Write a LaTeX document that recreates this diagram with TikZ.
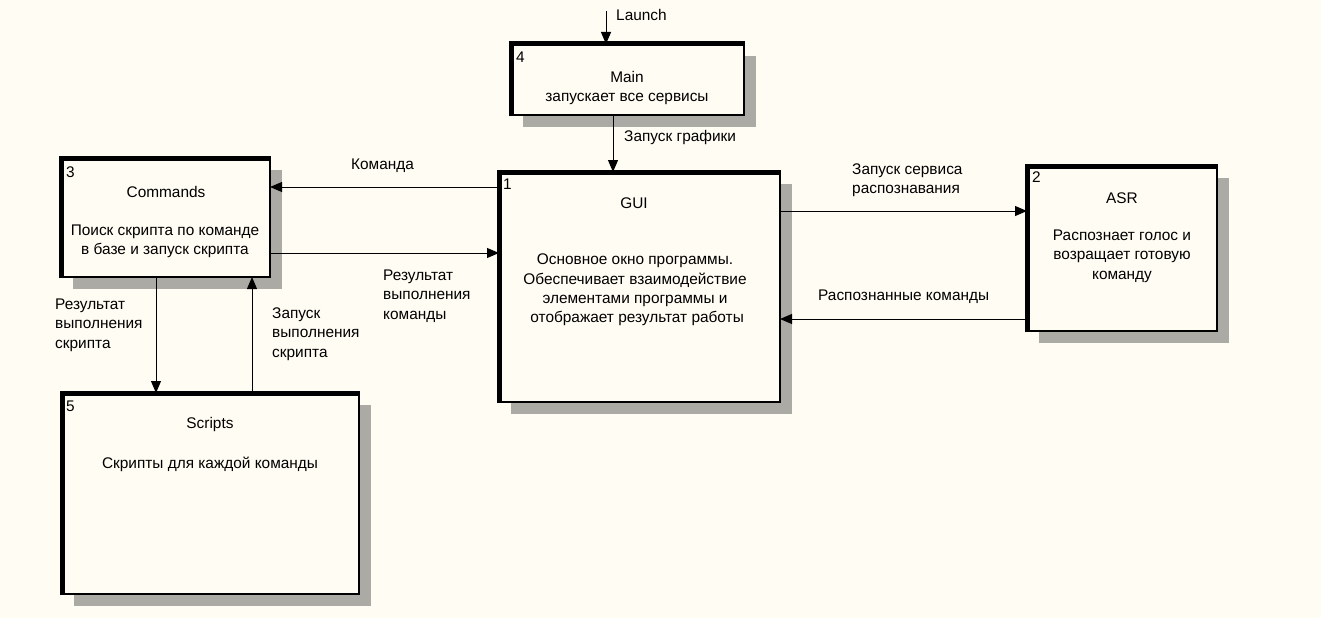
\documentclass[tikz,border=0pt]{standalone}
\usepackage{fontspec}
\setmainfont{Liberation Sans}
\usetikzlibrary{arrows.meta,backgrounds}
\pgfdeclarelayer{paper}
\pgfsetlayers{paper,background,main}
\definecolor{paperc}{RGB}{255,252,243}
\definecolor{shadowc}{RGB}{172,170,164}
\tikzset{
  box/.style={draw=black, line width=2.6pt, fill=paperc, inner sep=0pt, outer sep=0pt, anchor=north west},
  thickedge/.style={line width=5pt, line cap=butt, line join=miter},
  shade/.style={fill=shadowc},
  arr/.style={line width=1pt, -{Triangle[length=12pt,width=10pt]}},
  txt/.style={inner sep=0pt, align=center, font=\fontsize{15.4}{19.4}\selectfont},
  lbl/.style={inner sep=0pt, align=left, anchor=west, font=\fontsize{15.4}{19.4}\selectfont},
  num/.style={inner sep=0pt, anchor=west, font=\fontsize{15.4}{18}\selectfont},
}
\begin{document}
\begin{tikzpicture}[x=1pt,y=-1pt]
\begin{pgfonlayer}{paper}
\fill[paperc] (0,0) rectangle (1321,618);
\end{pgfonlayer}
\useasboundingbox (0,0) rectangle (1321,618);

% boxes
\node[box, minimum width=233pt, minimum height=71pt] (main) at (511,44) {};
\node[box, minimum width=281pt, minimum height=230pt] (gui) at (499,172) {};
\node[box, minimum width=209pt, minimum height=119pt] (cmd) at (61,158) {};
\node[box, minimum width=190pt, minimum height=165pt] (asr) at (1027,166) {};
\node[box, minimum width=297pt, minimum height=201pt] (scr) at (62,393) {};

\foreach \n in {main,gui,cmd,asr,scr}{
  \begin{pgfonlayer}{background}
  \fill[shade] ([shift={(12,12)}]\n.north west) rectangle ([shift={(12,12)}]\n.south east);
  \end{pgfonlayer}
  \draw[thickedge] ([shift={(0,1.3)}]\n.south west) -- (\n.north west) -- ([shift={(1.3,0)}]\n.north east);
}

% box texts
\node[num] (n4) at (516,57) {4};
\node[txt] (maint) at (627,88) {Main\\запускает все сервисы};
\node[num] (n1) at (503,184) {1};
\node[txt] (guit) at (634,203) {GUI};
\node[txt] (guid) at (635,290) {Основное окно программы.\\Обеспечивает взаимодействие\\элементами программы и\\\ отображает результат работы};
\node[num] (n3) at (66,172) {3};
\node[txt] (cmdt) at (166,192) {Commands};
\node[txt] (cmdd) at (165,241) {Поиск скрипта по команде\\в базе и запуск скрипта};
\node[num] (n2) at (1032,177) {2};
\node[txt] (asrt) at (1122,198) {ASR};
\node[txt] (asrd) at (1122,256) {Распознает голос и\\возращает готовую\\команду};
\node[num] (n5) at (66,406) {5};
\node[txt] (scrt) at (210,425) {Scripts};
\node[txt] (scrd) at (210,464) {Скрипты для каждой команды};

% connectors
\coordinate (launch) at (606,11);
\draw[arr] (launch) -- (launch |- main.north);
\draw[arr] (613,0 |- main.south) -- (613,0 |- gui.north);
\draw[arr] (gui.west |- 0,187) -- (cmd.east |- 0,187);
\draw[arr] (cmd.east |- 0,253) -- (gui.west |- 0,253);
\draw[arr] (156,0 |- cmd.south) -- (156,0 |- scr.north);
\draw[arr] (252,0 |- scr.north) -- (252,0 |- cmd.south);
\draw[arr] (gui.east |- 0,211) -- (asr.west |- 0,211);
\draw[arr] (asr.west |- 0,319) -- (gui.east |- 0,319);

% connector labels
\node[lbl] (l0) at (616,15) {Launch};
\node[lbl] (l1) at (624,138) {Запуск графики};
\node[lbl] (l2) at (351,166) {Команда};
\node[lbl] (l3) at (383,296) {Результат\\выполнения\\команды};
\node[lbl] (l4) at (55,325) {Результат\\выполнения\\скрипта};
\node[lbl] (l5) at (272,334) {Запуск\\выполнения\\скрипта};
\node[lbl] (l6) at (852,180) {Запуск сервиса\\распознавания};
\node[lbl] (l7) at (818,297) {Распознанные команды};
\end{tikzpicture}
\end{document}
